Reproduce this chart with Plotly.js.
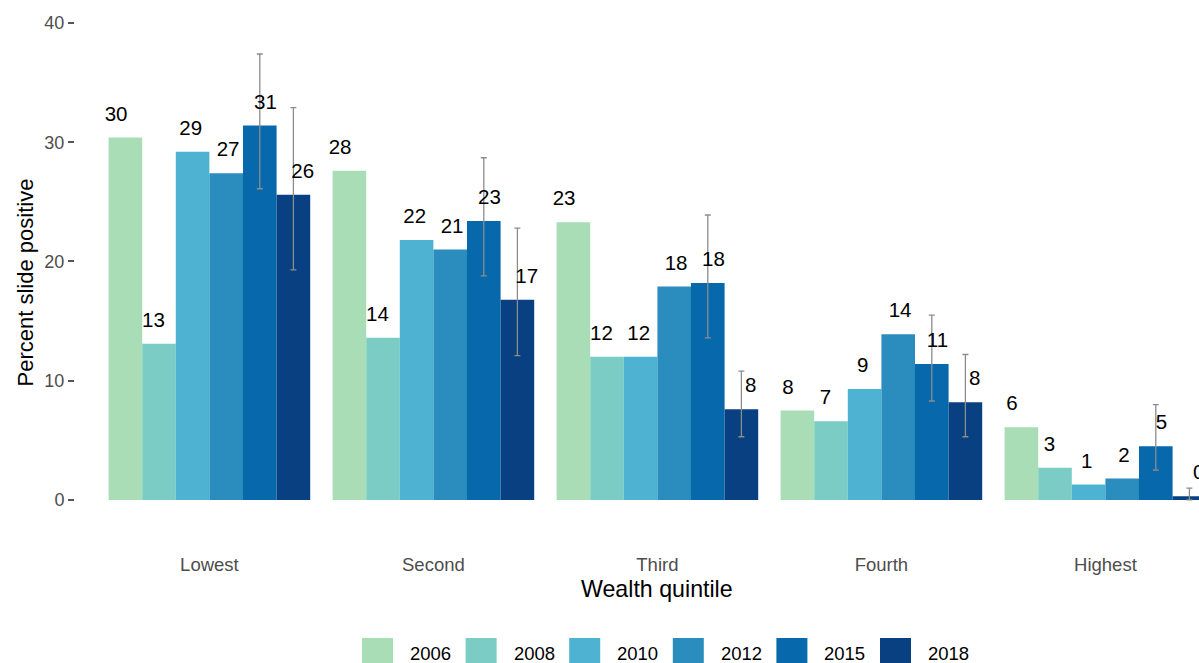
<!DOCTYPE html>
<html>
<head>
<meta charset="utf-8">
<script src="https://cdn.plot.ly/plotly-3.0.1.min.js"></script>
<style>
  html, body { margin: 0; padding: 0; background: #ffffff; overflow: hidden; }
  #chart { width: 1199px; height: 663px; }
</style>
</head>
<body>
<div id="chart"></div>
<script>
// ---- Data ----
const categories = ["Lowest", "Second", "Third", "Fourth", "Highest"];
const years = ["2006", "2008", "2010", "2012", "2015", "2018"];
const colors = ["#a8ddb5", "#7bccc4", "#4eb3d3", "#2b8cbe", "#0868ac", "#084081"];

const v2006 = [30.4, 27.6, 23.3, 7.5, 6.1];
const v2008 = [13.1, 13.6, 12.0, 6.6, 2.7];
const v2010 = [29.2, 21.8, 12.0, 9.3, 1.3];
const v2012 = [27.4, 21.0, 17.9, 13.9, 1.8];
const v2015 = [31.4, 23.4, 18.2, 11.4, 4.5];
const v2018 = [25.6, 16.8, 7.6, 8.2, 0.3];

// confidence intervals (only for 2015 and 2018)
const ci2015Low  = [26.1, 18.8, 13.6, 8.3, 2.5];
const ci2015High = [37.4, 28.7, 23.9, 15.5, 8.0];
const ci2018Low  = [19.3, 12.1, 5.3, 5.3, 0.0];
const ci2018High = [32.9, 22.8, 10.8, 12.2, 1.0];

const yTickVals = [0, 10, 20, 30, 40];
const xTitle = "Wealth quintile";
const yTitle = "Percent slide positive";

// ---- Build traces ----
const series = [v2006, v2008, v2010, v2012, v2015, v2018];
const ciLow = [null, null, null, null, ci2015Low, ci2018Low];
const ciHigh = [null, null, null, null, ci2015High, ci2018High];
const xIdx = categories.map((c, i) => i);
const FONT = "Liberation Sans, Arial, Helvetica, sans-serif";

const traces = [];
series.forEach((vals, s) => {
  const t = {
    type: "bar",
    name: years[s],
    x: xIdx,
    y: vals,
    marker: { color: colors[s], line: { width: 0 } },
    showlegend: false,
    hoverinfo: "x+y+name"
  };
  if (ciLow[s]) {
    t.error_y = {
      type: "data",
      symmetric: false,
      array: vals.map((v, i) => ciHigh[s][i] - v),
      arrayminus: vals.map((v, i) => v - ciLow[s][i]),
      color: "#8c8c8c",
      thickness: 1.3,
      width: 3
    };
  }
  traces.push(t);
});

// value labels (dodged across the full category width)
const nS = series.length;
series.forEach((vals, s) => {
  traces.push({
    type: "scatter",
    mode: "text",
    x: xIdx.map(i => i + (s - (nS - 1) / 2) / nS),
    y: vals.map(v => v + 1.85),
    text: vals.map(v => String(Math.round(v))),
    textposition: "middle center",
    textfont: { family: FONT, size: 20.5, color: "#000000" },
    cliponaxis: false,
    showlegend: false,
    hoverinfo: "skip"
  });
});

// ---- Layout ----
const W = 1199, H = 663;
const M = { l: 75, r: 0, t: 0, b: 115 };
const plotW = W - M.l - M.r, plotH = H - M.t - M.b;
const catPx = 224; // pixel width of one category
const px2paperX = X => (X - M.l) / plotW;
const px2paperY = Y => (H - M.b - Y) / plotH;

// custom legend with large swatches
const shapes = [];
const annotations = [];
years.forEach((yr, i) => {
  const x0 = 362 + i * 103.6;
  shapes.push({
    type: "rect", xref: "paper", yref: "paper",
    x0: px2paperX(x0), x1: px2paperX(x0 + 31),
    y0: px2paperY(669), y1: px2paperY(638),
    fillcolor: colors[i], line: { width: 0 }, layer: "above"
  });
  annotations.push({
    xref: "paper", yref: "paper",
    x: px2paperX(x0 + 46), y: px2paperY(653),
    xanchor: "left", yanchor: "middle",
    text: yr, showarrow: false,
    font: { family: FONT, size: 18.5, color: "#000000" }
  });
});

// axis titles (centred on the full panel, which extends past the right edge)
annotations.push({
  xref: "x", yref: "paper",
  x: (categories.length - 1) / 2, y: px2paperY(589),
  xanchor: "center", yanchor: "middle",
  text: xTitle, showarrow: false,
  font: { family: FONT, size: 23.2, color: "#000000" }
});
annotations.push({
  xref: "paper", yref: "paper",
  x: px2paperX(25), y: px2paperY(282.5),
  xanchor: "center", yanchor: "middle",
  textangle: -90,
  text: yTitle, showarrow: false,
  font: { family: FONT, size: 22, color: "#000000" }
});

const layout = {
  width: W, height: H,
  margin: M,
  paper_bgcolor: "#ffffff",
  plot_bgcolor: "#ffffff",
  barmode: "group",
  bargap: 0.1,
  bargroupgap: 0,
  font: { family: FONT },
  xaxis: {
    type: "linear",
    range: [-0.6, -0.6 + plotW / catPx],
    tickvals: xIdx,
    ticktext: categories,
    showgrid: false, zeroline: false, showline: false,
    ticks: "",
    ticklabelstandoff: 3,
    tickfont: { family: FONT, size: 18.5, color: "#4d4d4d" },
    fixedrange: true
  },
  yaxis: {
    range: [-4.03, 41.93],
    tickvals: yTickVals,
    showgrid: false, zeroline: false, showline: false,
    ticks: "outside", ticklen: 6, tickwidth: 1.5, tickcolor: "#555555",
    tickfont: { family: FONT, size: 18, color: "#4d4d4d" },
    fixedrange: true
  },
  shapes: shapes,
  annotations: annotations,
  showlegend: false
};

Plotly.newPlot("chart", traces, layout, { displayModeBar: false, responsive: false });
</script>
</body>
</html>
